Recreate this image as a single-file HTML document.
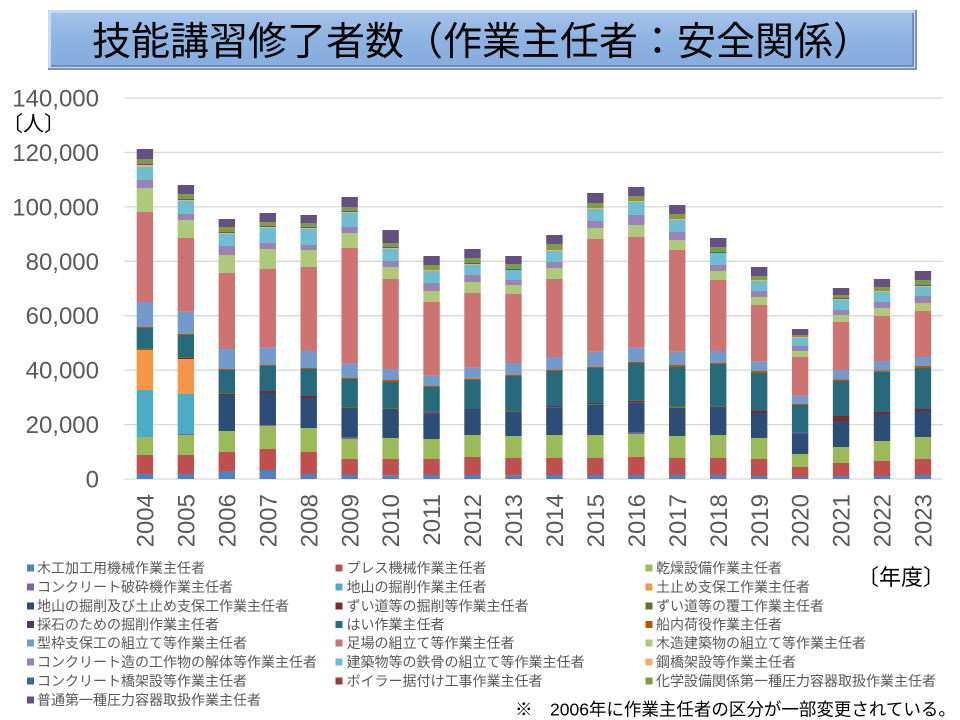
<!DOCTYPE html>
<html><head><meta charset="utf-8"><style>
html,body{margin:0;padding:0;background:#fff;}
svg{display:block;}
text{font-family:"Liberation Sans","Noto Sans CJK JP",sans-serif;}
.c1{fill:#4F81BD}.c2{fill:#C0504D}.c3{fill:#9BBB59}.c4{fill:#8064A2}.c5{fill:#4BACC6}.c6{fill:#F79646}
.c7{fill:#2C4D75}.c8{fill:#772C2A}.c9{fill:#5F7530}.c10{fill:#4D3B62}.c11{fill:#276A7C}.c12{fill:#B65708}
.c13{fill:#729ACA}.c14{fill:#CD7371}.c15{fill:#AFC97A}.c16{fill:#9983B5}.c17{fill:#6FBDD1}.c18{fill:#F9AB6B}
.c19{fill:#3A679C}.c20{fill:#9E3B38}.c21{fill:#7F9D40}.c22{fill:#664F82}
.lg{font-size:14px;fill:#595959;}
.yl{font-size:24px;fill:#595959;}
.xl{font-size:24px;fill:#595959;}
</style></head><body>
<svg width="960" height="720" viewBox="0 0 960 720" xmlns="http://www.w3.org/2000/svg">
<defs>
<linearGradient id="tg" x1="0" y1="0" x2="0" y2="1">
<stop offset="0" stop-color="#A3C2EA"/><stop offset="0.5" stop-color="#8DB3E2"/><stop offset="1" stop-color="#86ADDE"/>
</linearGradient>
</defs>
<!-- Title box -->
<rect x="48" y="10" width="869" height="60" fill="#7E95B0"/>
<rect x="48" y="10" width="867" height="58" fill="#C9DBF2"/>
<rect x="51" y="13" width="863" height="54" fill="#6F8FB8"/>
<rect x="51" y="13" width="861" height="52" fill="url(#tg)"/>
<text x="482" y="55" text-anchor="middle" style="font-family:'Noto Sans CJK JP','Liberation Sans',sans-serif;font-size:39px;fill:#000;">技能講習修了者数（作業主任者：安全関係）</text>

<!-- gridlines -->
<g stroke="#D9D9D9" stroke-width="1.3">
<line x1="124" x2="943" y1="98" y2="98"/>
<line x1="124" x2="943" y1="152.4" y2="152.4"/>
<line x1="124" x2="943" y1="206.9" y2="206.9"/>
<line x1="124" x2="943" y1="261.3" y2="261.3"/>
<line x1="124" x2="943" y1="315.7" y2="315.7"/>
<line x1="124" x2="943" y1="370.1" y2="370.1"/>
<line x1="124" x2="943" y1="424.6" y2="424.6"/>
<line x1="124" x2="943" y1="479" y2="479"/>
</g>

<!-- y labels -->
<g class="yl" text-anchor="end">
<text x="99" y="106.5">140,000</text>
<text x="99" y="160.9">120,000</text>
<text x="99" y="215.4">100,000</text>
<text x="99" y="269.8">80,000</text>
<text x="99" y="324.2">60,000</text>
<text x="99" y="378.6">40,000</text>
<text x="99" y="433.1">20,000</text>
<text x="99" y="487.5">0</text>
</g>
<text x="2" y="131" style="font-family:'Noto Sans CJK JP',sans-serif;font-size:21px;fill:#000;">〔人〕</text>

<!-- bars -->
<g transform="translate(136.7,0)">
<rect class="c22" width="16.4" y="149" height="10"/><rect class="c21" width="16.4" y="159" height="5"/><rect class="c19" width="16.4" y="164" height="1"/><rect class="c18" width="16.4" y="165" height="2"/><rect class="c17" width="16.4" y="167" height="13"/><rect class="c16" width="16.4" y="180" height="8"/><rect class="c15" width="16.4" y="188" height="24"/><rect class="c14" width="16.4" y="212" height="90"/><rect class="c13" width="16.4" y="302" height="25"/><rect class="c12" width="16.4" y="327" height="1"/><rect class="c11" width="16.4" y="328" height="20"/><rect class="c9" width="16.4" y="348" height="2"/><rect class="c6" width="16.4" y="350" height="40"/><rect class="c5" width="16.4" y="390" height="47"/><rect class="c3" width="16.4" y="437" height="18"/><rect class="c2" width="16.4" y="455" height="19"/><rect class="c1" width="16.4" y="474" height="5"/>
</g>
<g transform="translate(177.65,0)">
<rect class="c22" width="16.4" y="185" height="9"/><rect class="c21" width="16.4" y="194" height="5"/><rect class="c19" width="16.4" y="199" height="1"/><rect class="c18" width="16.4" y="200" height="1"/><rect class="c17" width="16.4" y="201" height="13"/><rect class="c16" width="16.4" y="214" height="6"/><rect class="c15" width="16.4" y="220" height="18"/><rect class="c14" width="16.4" y="238" height="73.7"/><rect class="c13" width="16.4" y="311.7" height="22"/><rect class="c12" width="16.4" y="333.7" height="1.3"/><rect class="c11" width="16.4" y="335" height="22"/><rect class="c9" width="16.4" y="357" height="1"/><rect class="c8" width="16.4" y="358" height="1"/><rect class="c6" width="16.4" y="359" height="35"/><rect class="c5" width="16.4" y="394" height="40"/><rect class="c4" width="16.4" y="434" height="1"/><rect class="c3" width="16.4" y="435" height="20"/><rect class="c2" width="16.4" y="455" height="19"/><rect class="c1" width="16.4" y="474" height="5"/>
</g>
<g transform="translate(218.6,0)">
<rect class="c22" width="16.4" y="219" height="8"/><rect class="c21" width="16.4" y="227" height="5"/><rect class="c19" width="16.4" y="232" height="1"/><rect class="c18" width="16.4" y="233" height="1"/><rect class="c17" width="16.4" y="234" height="12"/><rect class="c16" width="16.4" y="246" height="9"/><rect class="c15" width="16.4" y="255" height="18"/><rect class="c14" width="16.4" y="273" height="76"/><rect class="c13" width="16.4" y="349" height="20"/><rect class="c12" width="16.4" y="369" height="1"/><rect class="c11" width="16.4" y="370" height="23"/><rect class="c9" width="16.4" y="393" height="1"/><rect class="c8" width="16.4" y="394" height="1"/><rect class="c7" width="16.4" y="395" height="36"/><rect class="c3" width="16.4" y="431" height="21"/><rect class="c2" width="16.4" y="452" height="19"/><rect class="c1" width="16.4" y="471" height="8"/>
</g>
<g transform="translate(259.55,0)">
<rect class="c22" width="16.4" y="213" height="9"/><rect class="c21" width="16.4" y="222" height="4"/><rect class="c19" width="16.4" y="226" height="1"/><rect class="c18" width="16.4" y="227" height="1"/><rect class="c17" width="16.4" y="228" height="15"/><rect class="c16" width="16.4" y="243" height="6"/><rect class="c15" width="16.4" y="249" height="20"/><rect class="c14" width="16.4" y="269" height="78.7"/><rect class="c13" width="16.4" y="347.7" height="17.3"/><rect class="c12" width="16.4" y="365" height="1"/><rect class="c11" width="16.4" y="366" height="25"/><rect class="c8" width="16.4" y="391" height="2"/><rect class="c7" width="16.4" y="393" height="32"/><rect class="c4" width="16.4" y="425" height="1"/><rect class="c3" width="16.4" y="426" height="23"/><rect class="c2" width="16.4" y="449" height="21"/><rect class="c1" width="16.4" y="470" height="9"/>
</g>
<g transform="translate(300.5,0)">
<rect class="c22" width="16.4" y="215" height="8"/><rect class="c21" width="16.4" y="223" height="4"/><rect class="c19" width="16.4" y="227" height="1"/><rect class="c18" width="16.4" y="228" height="1"/><rect class="c17" width="16.4" y="229" height="16"/><rect class="c16" width="16.4" y="245" height="5"/><rect class="c15" width="16.4" y="250" height="17"/><rect class="c14" width="16.4" y="267" height="84"/><rect class="c13" width="16.4" y="351" height="17"/><rect class="c12" width="16.4" y="368" height="1"/><rect class="c11" width="16.4" y="369" height="27"/><rect class="c8" width="16.4" y="396" height="2"/><rect class="c7" width="16.4" y="398" height="30"/><rect class="c3" width="16.4" y="428" height="24"/><rect class="c2" width="16.4" y="452" height="22"/><rect class="c1" width="16.4" y="474" height="5"/>
</g>
<g transform="translate(341.45,0)">
<rect class="c22" width="16.4" y="197" height="10"/><rect class="c21" width="16.4" y="207" height="4"/><rect class="c19" width="16.4" y="211" height="1"/><rect class="c18" width="16.4" y="212" height="1"/><rect class="c17" width="16.4" y="213" height="14"/><rect class="c16" width="16.4" y="227" height="6"/><rect class="c15" width="16.4" y="233" height="15"/><rect class="c14" width="16.4" y="248" height="115.7"/><rect class="c13" width="16.4" y="363.7" height="14"/><rect class="c12" width="16.4" y="377.7" height="1.3"/><rect class="c11" width="16.4" y="379" height="28"/><rect class="c9" width="16.4" y="407" height="1"/><rect class="c7" width="16.4" y="408" height="29.7"/><rect class="c4" width="16.4" y="437.7" height="1.3"/><rect class="c3" width="16.4" y="439" height="20"/><rect class="c2" width="16.4" y="459" height="16"/><rect class="c1" width="16.4" y="475" height="4"/>
</g>
<g transform="translate(382.4,0)">
<rect class="c22" width="16.4" y="230" height="13"/><rect class="c21" width="16.4" y="243" height="4"/><rect class="c19" width="16.4" y="247" height="1"/><rect class="c18" width="16.4" y="248" height="1"/><rect class="c17" width="16.4" y="249" height="12"/><rect class="c16" width="16.4" y="261" height="6"/><rect class="c15" width="16.4" y="267" height="12"/><rect class="c14" width="16.4" y="279" height="90"/><rect class="c13" width="16.4" y="369" height="11"/><rect class="c12" width="16.4" y="380" height="2"/><rect class="c11" width="16.4" y="382" height="26"/><rect class="c9" width="16.4" y="408" height="1"/><rect class="c7" width="16.4" y="409" height="29"/><rect class="c3" width="16.4" y="438" height="21"/><rect class="c2" width="16.4" y="459" height="16.7"/><rect class="c1" width="16.4" y="475.7" height="3.3"/>
</g>
<g transform="translate(423.35,0)">
<rect class="c22" width="16.4" y="256" height="9"/><rect class="c21" width="16.4" y="265" height="5"/><rect class="c18" width="16.4" y="270" height="1"/><rect class="c17" width="16.4" y="271" height="12"/><rect class="c16" width="16.4" y="283" height="8"/><rect class="c15" width="16.4" y="291" height="11"/><rect class="c14" width="16.4" y="302" height="73.7"/><rect class="c13" width="16.4" y="375.7" height="10"/><rect class="c12" width="16.4" y="385.7" height="1.3"/><rect class="c11" width="16.4" y="387" height="24.7"/><rect class="c10" width="16.4" y="411.7" height="1"/><rect class="c8" width="16.4" y="412.7" height="1"/><rect class="c7" width="16.4" y="413.7" height="25.3"/><rect class="c3" width="16.4" y="439" height="20"/><rect class="c2" width="16.4" y="459" height="16"/><rect class="c1" width="16.4" y="475" height="4"/>
</g>
<g transform="translate(464.3,0)">
<rect class="c22" width="16.4" y="249" height="9"/><rect class="c21" width="16.4" y="258" height="5"/><rect class="c19" width="16.4" y="263" height="1"/><rect class="c18" width="16.4" y="264" height="1"/><rect class="c17" width="16.4" y="265" height="10"/><rect class="c16" width="16.4" y="275" height="7"/><rect class="c15" width="16.4" y="282" height="11"/><rect class="c14" width="16.4" y="293" height="74.7"/><rect class="c13" width="16.4" y="367.7" height="11"/><rect class="c12" width="16.4" y="378.7" height="1.3"/><rect class="c11" width="16.4" y="380" height="29"/><rect class="c10" width="16.4" y="409" height="1"/><rect class="c7" width="16.4" y="410" height="25"/><rect class="c3" width="16.4" y="435" height="22"/><rect class="c2" width="16.4" y="457" height="18"/><rect class="c1" width="16.4" y="475" height="4"/>
</g>
<g transform="translate(505.25,0)">
<rect class="c22" width="16.4" y="256" height="8"/><rect class="c21" width="16.4" y="264" height="5"/><rect class="c19" width="16.4" y="269" height="1"/><rect class="c17" width="16.4" y="270" height="10"/><rect class="c16" width="16.4" y="280" height="5"/><rect class="c15" width="16.4" y="285" height="9"/><rect class="c14" width="16.4" y="294" height="69"/><rect class="c13" width="16.4" y="363" height="11.7"/><rect class="c12" width="16.4" y="374.7" height="1.3"/><rect class="c11" width="16.4" y="376" height="35"/><rect class="c9" width="16.4" y="411" height="1"/><rect class="c7" width="16.4" y="412" height="24"/><rect class="c3" width="16.4" y="436" height="22"/><rect class="c2" width="16.4" y="458" height="17.7"/><rect class="c1" width="16.4" y="475.7" height="3.3"/>
</g>
<g transform="translate(546.2,0)">
<rect class="c22" width="16.4" y="235" height="9"/><rect class="c21" width="16.4" y="244" height="6"/><rect class="c18" width="16.4" y="250" height="1"/><rect class="c17" width="16.4" y="251" height="11"/><rect class="c16" width="16.4" y="262" height="6"/><rect class="c15" width="16.4" y="268" height="11"/><rect class="c14" width="16.4" y="279" height="78"/><rect class="c13" width="16.4" y="357" height="12.7"/><rect class="c12" width="16.4" y="369.7" height="1.3"/><rect class="c11" width="16.4" y="371" height="35"/><rect class="c10" width="16.4" y="406" height="1.7"/><rect class="c7" width="16.4" y="407.7" height="27.3"/><rect class="c3" width="16.4" y="435" height="23"/><rect class="c2" width="16.4" y="458" height="17"/><rect class="c1" width="16.4" y="475" height="4"/>
</g>
<g transform="translate(587.15,0)">
<rect class="c22" width="16.4" y="193" height="10"/><rect class="c21" width="16.4" y="203" height="5"/><rect class="c18" width="16.4" y="208" height="1"/><rect class="c17" width="16.4" y="209" height="12"/><rect class="c16" width="16.4" y="221" height="7"/><rect class="c15" width="16.4" y="228" height="11"/><rect class="c14" width="16.4" y="239" height="112.7"/><rect class="c13" width="16.4" y="351.7" height="15"/><rect class="c12" width="16.4" y="366.7" height="1.3"/><rect class="c11" width="16.4" y="368" height="35"/><rect class="c10" width="16.4" y="403" height="1"/><rect class="c9" width="16.4" y="404" height="1"/><rect class="c7" width="16.4" y="405" height="30"/><rect class="c3" width="16.4" y="435" height="23"/><rect class="c2" width="16.4" y="458" height="17"/><rect class="c1" width="16.4" y="475" height="4"/>
</g>
<g transform="translate(628.1,0)">
<rect class="c22" width="16.4" y="187" height="9"/><rect class="c21" width="16.4" y="196" height="5"/><rect class="c18" width="16.4" y="201" height="1"/><rect class="c17" width="16.4" y="202" height="13"/><rect class="c16" width="16.4" y="215" height="10"/><rect class="c15" width="16.4" y="225" height="12"/><rect class="c14" width="16.4" y="237" height="110.7"/><rect class="c13" width="16.4" y="347.7" height="14"/><rect class="c12" width="16.4" y="361.7" height="1.3"/><rect class="c11" width="16.4" y="363" height="37.7"/><rect class="c8" width="16.4" y="400.7" height="2"/><rect class="c7" width="16.4" y="402.7" height="30"/><rect class="c4" width="16.4" y="432.7" height="1.3"/><rect class="c3" width="16.4" y="434" height="23"/><rect class="c2" width="16.4" y="457" height="18"/><rect class="c1" width="16.4" y="475" height="4"/>
</g>
<g transform="translate(669.05,0)">
<rect class="c22" width="16.4" y="205" height="9"/><rect class="c21" width="16.4" y="214" height="5"/><rect class="c18" width="16.4" y="219" height="1"/><rect class="c17" width="16.4" y="220" height="12"/><rect class="c16" width="16.4" y="232" height="8"/><rect class="c15" width="16.4" y="240" height="10"/><rect class="c14" width="16.4" y="250" height="101.7"/><rect class="c13" width="16.4" y="351.7" height="13.3"/><rect class="c12" width="16.4" y="365" height="2"/><rect class="c11" width="16.4" y="367" height="39"/><rect class="c9" width="16.4" y="406" height="1.7"/><rect class="c7" width="16.4" y="407.7" height="28.3"/><rect class="c3" width="16.4" y="436" height="22"/><rect class="c2" width="16.4" y="458" height="17"/><rect class="c1" width="16.4" y="475" height="4"/>
</g>
<g transform="translate(710,0)">
<rect class="c22" width="16.4" y="238" height="9"/><rect class="c21" width="16.4" y="247" height="5"/><rect class="c19" width="16.4" y="252" height="1"/><rect class="c17" width="16.4" y="253" height="12"/><rect class="c16" width="16.4" y="265" height="6"/><rect class="c15" width="16.4" y="271" height="9"/><rect class="c14" width="16.4" y="280" height="71"/><rect class="c13" width="16.4" y="351" height="11.7"/><rect class="c12" width="16.4" y="362.7" height="1.3"/><rect class="c11" width="16.4" y="364" height="42"/><rect class="c9" width="16.4" y="406" height="1"/><rect class="c7" width="16.4" y="407" height="28"/><rect class="c3" width="16.4" y="435" height="23"/><rect class="c2" width="16.4" y="458" height="17"/><rect class="c1" width="16.4" y="475" height="4"/>
</g>
<g transform="translate(750.95,0)">
<rect class="c22" width="16.4" y="267" height="9"/><rect class="c21" width="16.4" y="276" height="4"/><rect class="c18" width="16.4" y="280" height="1"/><rect class="c17" width="16.4" y="281" height="10"/><rect class="c16" width="16.4" y="291" height="6"/><rect class="c15" width="16.4" y="297" height="8"/><rect class="c14" width="16.4" y="305" height="56.7"/><rect class="c13" width="16.4" y="361.7" height="9.3"/><rect class="c12" width="16.4" y="371" height="2"/><rect class="c11" width="16.4" y="373" height="38"/><rect class="c8" width="16.4" y="411" height="2"/><rect class="c7" width="16.4" y="413" height="25"/><rect class="c3" width="16.4" y="438" height="21"/><rect class="c2" width="16.4" y="459" height="17"/><rect class="c1" width="16.4" y="476" height="3"/>
</g>
<g transform="translate(791.9,0)">
<rect class="c22" width="16.4" y="329" height="6"/><rect class="c21" width="16.4" y="335" height="2"/><rect class="c18" width="16.4" y="337" height="1"/><rect class="c17" width="16.4" y="338" height="8"/><rect class="c16" width="16.4" y="346" height="5"/><rect class="c15" width="16.4" y="351" height="6"/><rect class="c14" width="16.4" y="357" height="38.7"/><rect class="c13" width="16.4" y="395.7" height="8.3"/><rect class="c12" width="16.4" y="404" height="1"/><rect class="c11" width="16.4" y="405" height="27.7"/><rect class="c10" width="16.4" y="432.7" height="1"/><rect class="c7" width="16.4" y="433.7" height="20.3"/><rect class="c3" width="16.4" y="454" height="13"/><rect class="c2" width="16.4" y="467" height="10"/><rect class="c1" width="16.4" y="477" height="2"/>
</g>
<g transform="translate(832.85,0)">
<rect class="c22" width="16.4" y="288" height="7"/><rect class="c21" width="16.4" y="295" height="3"/><rect class="c19" width="16.4" y="298" height="1"/><rect class="c18" width="16.4" y="299" height="1"/><rect class="c17" width="16.4" y="300" height="10"/><rect class="c16" width="16.4" y="310" height="5"/><rect class="c15" width="16.4" y="315" height="7"/><rect class="c14" width="16.4" y="322" height="48"/><rect class="c13" width="16.4" y="370" height="9.3"/><rect class="c12" width="16.4" y="379.3" height="1.7"/><rect class="c11" width="16.4" y="381" height="35"/><rect class="c8" width="16.4" y="416" height="5"/><rect class="c7" width="16.4" y="421" height="26"/><rect class="c3" width="16.4" y="447" height="16"/><rect class="c2" width="16.4" y="463" height="13"/><rect class="c1" width="16.4" y="476" height="3"/>
</g>
<g transform="translate(873.8,0)">
<rect class="c22" width="16.4" y="279" height="8"/><rect class="c21" width="16.4" y="287" height="4"/><rect class="c18" width="16.4" y="291" height="1"/><rect class="c17" width="16.4" y="292" height="10"/><rect class="c16" width="16.4" y="302" height="6"/><rect class="c15" width="16.4" y="308" height="8"/><rect class="c14" width="16.4" y="316" height="45"/><rect class="c13" width="16.4" y="361" height="9.3"/><rect class="c12" width="16.4" y="370.3" height="1.4"/><rect class="c11" width="16.4" y="371.7" height="40.3"/><rect class="c8" width="16.4" y="412" height="2"/><rect class="c7" width="16.4" y="414" height="27"/><rect class="c3" width="16.4" y="441" height="20"/><rect class="c2" width="16.4" y="461" height="15"/><rect class="c1" width="16.4" y="476" height="3"/>
</g>
<g transform="translate(914.75,0)">
<rect class="c22" width="16.4" y="271" height="9"/><rect class="c21" width="16.4" y="280" height="5"/><rect class="c19" width="16.4" y="285" height="1"/><rect class="c18" width="16.4" y="286" height="1"/><rect class="c17" width="16.4" y="287" height="9"/><rect class="c16" width="16.4" y="296" height="7"/><rect class="c15" width="16.4" y="303" height="8"/><rect class="c14" width="16.4" y="311" height="46"/><rect class="c13" width="16.4" y="357" height="9"/><rect class="c12" width="16.4" y="366" height="2"/><rect class="c11" width="16.4" y="368" height="41"/><rect class="c8" width="16.4" y="409" height="2"/><rect class="c7" width="16.4" y="411" height="26"/><rect class="c3" width="16.4" y="437" height="22"/><rect class="c2" width="16.4" y="459" height="16"/><rect class="c1" width="16.4" y="475" height="4"/>
</g>

<!-- x labels -->
<g class="xl" text-anchor="end">
<text transform="translate(153.5,494) rotate(-90)">2004</text>
<text transform="translate(194.45,494) rotate(-90)">2005</text>
<text transform="translate(235.4,494) rotate(-90)">2006</text>
<text transform="translate(276.35,494) rotate(-90)">2007</text>
<text transform="translate(317.3,494) rotate(-90)">2008</text>
<text transform="translate(358.25,494) rotate(-90)">2009</text>
<text transform="translate(399.2,494) rotate(-90)">2010</text>
<text transform="translate(440.15,494) rotate(-90)">2011</text>
<text transform="translate(481.1,494) rotate(-90)">2012</text>
<text transform="translate(522.05,494) rotate(-90)">2013</text>
<text transform="translate(563,494) rotate(-90)">2014</text>
<text transform="translate(603.95,494) rotate(-90)">2015</text>
<text transform="translate(644.9,494) rotate(-90)">2016</text>
<text transform="translate(685.85,494) rotate(-90)">2017</text>
<text transform="translate(726.8,494) rotate(-90)">2018</text>
<text transform="translate(767.75,494) rotate(-90)">2019</text>
<text transform="translate(808.7,494) rotate(-90)">2020</text>
<text transform="translate(849.65,494) rotate(-90)">2021</text>
<text transform="translate(890.6,494) rotate(-90)">2022</text>
<text transform="translate(931.55,494) rotate(-90)">2023</text>
</g>

<!-- legend -->
<g>
<rect class="c1" x="27" y="564.5" width="7" height="7"/><text class="lg" x="37" y="573">木工加工用機械作業主任者</text>
<rect class="c2" x="335.5" y="564.5" width="7" height="7"/><text class="lg" x="346.5" y="573">プレス機械作業主任者</text>
<rect class="c3" x="645.5" y="564.5" width="7" height="7"/><text class="lg" x="656" y="573">乾燥設備作業主任者</text>

<rect class="c4" x="27" y="583.5" width="7" height="7"/><text class="lg" x="37" y="592">コンクリート破砕機作業主任者</text>
<rect class="c5" x="335.5" y="583.5" width="7" height="7"/><text class="lg" x="346.5" y="592">地山の掘削作業主任者</text>
<rect class="c6" x="645.5" y="583.5" width="7" height="7"/><text class="lg" x="656" y="592">土止め支保工作業主任者</text>

<rect class="c7" x="27" y="602.5" width="7" height="7"/><text class="lg" x="37" y="611">地山の掘削及び土止め支保工作業主任者</text>
<rect class="c8" x="335.5" y="602.5" width="7" height="7"/><text class="lg" x="346.5" y="611">ずい道等の掘削等作業主任者</text>
<rect class="c9" x="645.5" y="602.5" width="7" height="7"/><text class="lg" x="656" y="611">ずい道等の覆工作業主任者</text>

<rect class="c10" x="27" y="621" width="7" height="7"/><text class="lg" x="37" y="629.5">採石のための掘削作業主任者</text>
<rect class="c11" x="335.5" y="621" width="7" height="7"/><text class="lg" x="346.5" y="629.5">はい作業主任者</text>
<rect class="c12" x="645.5" y="621" width="7" height="7"/><text class="lg" x="656" y="629.5">船内荷役作業主任者</text>

<rect class="c13" x="27" y="639.5" width="7" height="7"/><text class="lg" x="37" y="648">型枠支保工の組立て等作業主任者</text>
<rect class="c14" x="335.5" y="639.5" width="7" height="7"/><text class="lg" x="346.5" y="648">足場の組立て等作業主任者</text>
<rect class="c15" x="645.5" y="639.5" width="7" height="7"/><text class="lg" x="656" y="648">木造建築物の組立て等作業主任者</text>

<rect class="c16" x="27" y="658.5" width="7" height="7"/><text class="lg" x="37" y="667">コンクリート造の工作物の解体等作業主任者</text>
<rect class="c17" x="335.5" y="658.5" width="7" height="7"/><text class="lg" x="346.5" y="667">建築物等の鉄骨の組立て等作業主任者</text>
<rect class="c18" x="645.5" y="658.5" width="7" height="7"/><text class="lg" x="656" y="667">鋼橋架設等作業主任者</text>

<rect class="c19" x="27" y="677.5" width="7" height="7"/><text class="lg" x="37" y="686">コンクリート橋架設等作業主任者</text>
<rect class="c20" x="335.5" y="677.5" width="7" height="7"/><text class="lg" x="346.5" y="686">ボイラー据付け工事作業主任者</text>
<rect class="c21" x="645.5" y="677.5" width="7" height="7"/><text class="lg" x="656" y="686">化学設備関係第一種圧力容器取扱作業主任者</text>

<rect class="c22" x="27" y="696.5" width="7" height="7"/><text class="lg" x="37" y="705">普通第一種圧力容器取扱作業主任者</text>
</g>

<text x="857" y="585" style="font-family:'Noto Sans CJK JP',sans-serif;font-size:22px;fill:#000;">〔年度〕</text>
<text x="515" y="715.5" style="font-size:17.5px;fill:#000;">※　2006年に作業主任者の区分が一部変更されている。</text>
</svg>
</body></html>
